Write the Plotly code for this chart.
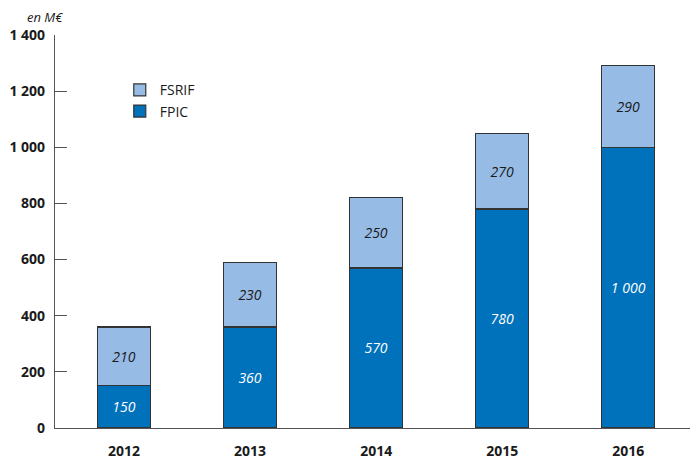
import plotly.graph_objects as go

years = ["2012", "2013", "2014", "2015", "2016"]
fpic = [150, 360, 570, 780, 1000]
fsrif = [210, 230, 250, 270, 290]
tick_vals = [0, 200, 400, 600, 800, 1000, 1200, 1400]
tick_text = ["0", "200", "400", "600", "800", "1 000", "1 200", "1 400"]

def fmt(v):
    return f"{v:,}".replace(",", " ")

FONT = "Open Sans"

fig = go.Figure()
fig.add_trace(go.Bar(
    x=years, y=fpic, name="FPIC",
    marker=dict(color="#0072BC", line=dict(color="#333333", width=1.2)),
    text=[fmt(v) for v in fpic], textposition="inside", insidetextanchor="middle",
    textfont=dict(family=FONT, size=14, color="white", style="italic"),
    width=0.42,
))
fig.add_trace(go.Bar(
    x=years, y=fsrif, name="FSRIF",
    marker=dict(color="#96BBE5", line=dict(color="#333333", width=1.2)),
    text=[fmt(v) for v in fsrif], textposition="inside", insidetextanchor="middle",
    textfont=dict(family=FONT, size=14, color="#1a1a1a", style="italic"),
    width=0.42,
))

fig.update_layout(
    barmode="stack",
    width=691, height=455,
    margin=dict(l=47, r=9, t=27, b=35),
    plot_bgcolor="white", paper_bgcolor="white",
    font=dict(family=FONT, color="#1a1a1a"),
    showlegend=True,
    legend=dict(
        x=0.102, y=0.9, xanchor="left", yanchor="top",
        traceorder="reversed", bgcolor="rgba(0,0,0,0)",
        font=dict(family=FONT, size=14, color="#1a1a1a"),
        itemwidth=30, tracegroupgap=4,
    ),
    xaxis=dict(
        type="category", range=[-0.548, 4.49], automargin=False,
        showline=True, linecolor="#555555", linewidth=1.2,
        ticks="", showgrid=False,
        tickfont=dict(family=FONT, size=14, color="#1a1a1a", weight="bold"),
        ticklabelstandoff=10,
    ),
    yaxis=dict(
        range=[0, 1400], tickvals=tick_vals, ticktext=tick_text, automargin=False,
        showline=True, linecolor="#555555", linewidth=1.2,
        ticks="inside", ticklen=12, tickcolor="#555555", tickwidth=1.2,
        showgrid=False, zeroline=False,
        tickfont=dict(family=FONT, size=14, color="#1a1a1a", weight="bold"),
        ticklabelstandoff=6,
    ),
    annotations=[dict(
        text="en M€", xref="paper", yref="paper", x=-0.047, y=1.0, yshift=18,
        xanchor="left", yanchor="middle", showarrow=False,
        font=dict(family=FONT, size=13, color="#1a1a1a", style="italic"),
    )],
)

fig.write_html("out.html")
